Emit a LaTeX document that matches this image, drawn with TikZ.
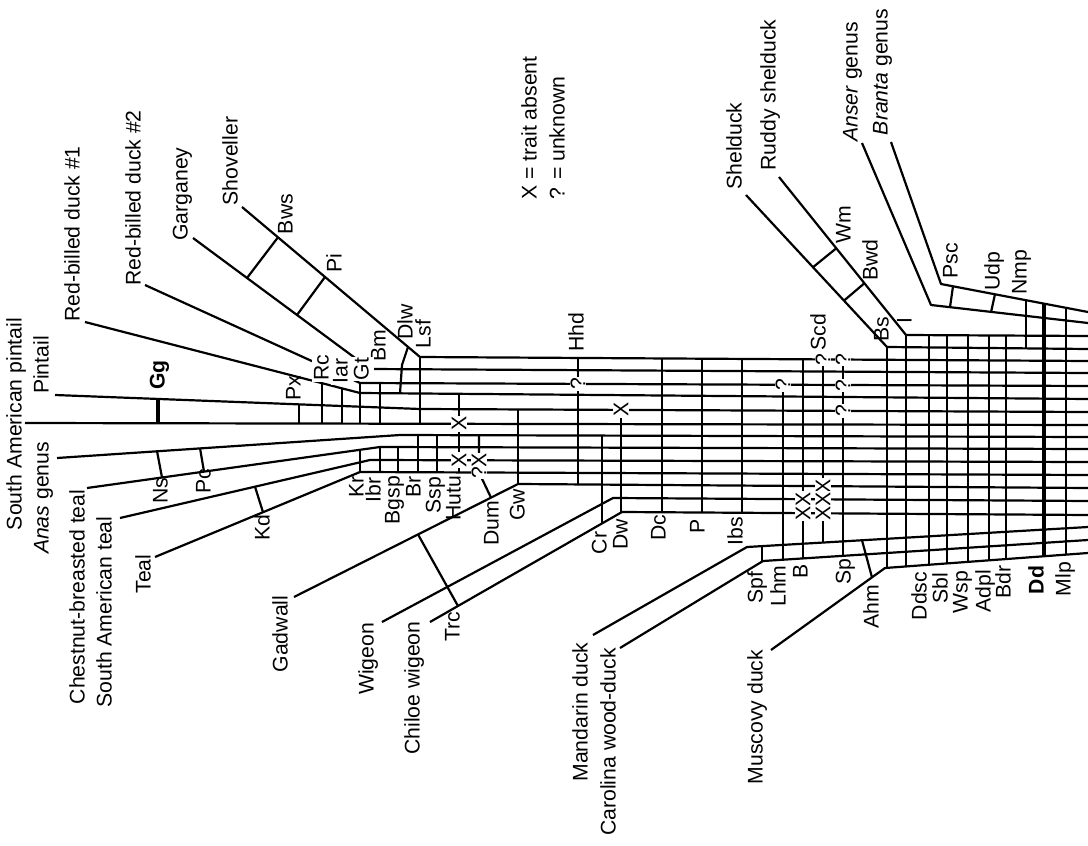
\documentclass[tikz,border=0pt]{standalone}
\usepackage{fontspec}
\setmainfont{Liberation Sans}
\usetikzlibrary{positioning}

\tikzstyle{taxon} = [rotate=90, inner sep=0pt, text height=0.75em, text depth=0.2em]
\tikzstyle{trait} = [rotate=90, inner sep=0.6pt, text height=0.75em, text depth=0.2em]
\tikzstyle{hide} = [fill=white]
\tikzstyle{flag} = [rotate=90, inner sep=0.4pt, fill=white]
\tikzstyle{branch} = [line width=1.1pt, line join=round]
\tikzstyle{rung} = [line width=1.1pt]
\tikzstyle{heavy} = [line width=2.2pt]

\begin{document}
\begin{tikzpicture}[x=0.5pt, y=-0.5pt, font=\fontsize{10.6}{14}\selectfont]
\useasboundingbox (0,0) rectangle (1088,846);

% lineages, tip -> root at the right edge
\draw[branch] (25,423) -- (1088,425);                 % S. American pintail
\draw[branch] (55,395) -- (420,409) -- (1088,412);    % Pintail
\draw[branch] (85,322) -- (360,393) -- (1088,399);    % Red-billed #1
\draw[branch] (145,285) -- (360,383) -- (1088,386);   % Red-billed #2
\draw[branch] (193,238) -- (370,369) -- (1088,373);   % Garganey
\draw[branch] (242,207) -- (420,357) -- (1088,361);   % Shoveller
\draw[branch] (57,458) -- (400,435) -- (1088,437);    % Anas
\draw[branch] (87,488) -- (380,447) -- (1088,449);    % Chestnut-breasted teal
\draw[branch] (120,518) -- (370,460) -- (1088,462);   % S. American teal
\draw[branch] (155,557) -- (360,472) -- (1088,475);   % Teal
\draw[branch] (294,597) -- (518,484) -- (1088,488);   % Gadwall
\draw[branch] (382,622) -- (613,498) -- (1088,501);   % Wigeon
\draw[branch] (430,622) -- (622,512) -- (1088,515);   % Chiloe wigeon
\draw[branch] (593,635) -- (747,547) -- (1088,527);   % Mandarin
\draw[branch] (620,648) -- (763,561) -- (1088,540);   % Carolina
\draw[branch] (771,650) -- (885,568) -- (1088,553);   % Muscovy
\draw[branch] (746,195) -- (887,347) -- (1088,349);   % Shelduck
\draw[branch] (779,177) -- (906,335) -- (1088,336);   % Ruddy shelduck
\draw[branch] (862,143) -- (931,305) -- (1088,323);   % Anser
\draw[branch] (891,142) -- (941,284) -- (1088,312);   % Branta

% character bars
\draw[heavy] (158,399) -- (158,423.3);
\draw[heavy] (1044,303) -- (1044,556.3);
\foreach \x/\ya/\yb in {299/404.4/423.5, 322/383.2/423.5, 342/388.4/423.6, 360/383/423.6,
    380/383.1/423.7, 420/357/423.7, 360/449.8/472, 380/447/472.1, 398/447.1/472.2,
    418/435.2/472.2, 437/435.3/472.3, 459/393.8/472.4, 518/409.4/484, 578/357.9/484.4,
    602/435.6/523.5, 621/409.9/512.6, 662/358.4/512.3, 702/358.7/512.5, 742/358.9/512.8,
    762/546.1/561.6, 783/385.1/559.7, 803/359.3/558.4, 823/359.4/542.5, 843/359.5/555.8,
    887/347/567.9, 906/335/566.5, 929/335.1/564.7, 947/335.2/563.4, 968/335.3/561.9,
    989/335.5/560.4, 1006/335.6/559.1, 1026/299.6/348.4, 1066/307.2/554.6}
  \draw[rung] (\x,\ya) -- (\x,\yb);
\draw[rung] (247,278) -- (278,237.3);
\draw[rung] (325,277) -- (297,315);
\draw[rung] (157,451) -- (162,477.5);
\draw[rung] (200,448) -- (204,471.6);
\draw[rung] (255,486.7) -- (263,512.2);
\draw[rung] (418,534.4) -- (458,606);
\draw[rung] (862,540.3) -- (872,577.4);
\draw[rung] (953,286.3) -- (950,307.2);
\draw[rung] (995,294.2) -- (991,312.3);
\draw[rung] (813,267.2) -- (836,248.5);
\draw[rung] (844,300.6) -- (864,283.6);
\draw[rung, line join=round] (408,347) -- (402,365) -- (400,393.3);
\draw[rung, line join=round] (479,435.6) -- (479,472.5) -- (491,497.6);

% absent / unknown
\foreach \x/\y [count=\i] in {459/423.7, 459/460.3, 479/460.4, 621/409.9, 803/499.2,
    803/513.2, 823/486.1, 823/499.3, 823/513.3}
  \node[flag] (absent\i) at (\x,\y) {X};
\foreach \x/\y [count=\i] in {479/472.5, 578/383.9, 783/385.1, 823/359.4, 843/359.5,
    843/385.3, 843/410.9}
  \node[flag] (unknown\i) at (\x,\y) {?};

% trait names
\foreach \n/\x/\y in {Px/295/388, Bm/380/346, Dlw/407/322, Lsf/425/334, Bws/287/214,
    Pi/336/263, Ns/162/491, Pc/205/481, Kd/264/528, Kr/358/487, Ibr/375/490,
    Bgsp/394/500, Br/415/487, Ssp/435/495, Hutu/455/498, Dum/493/523, Gw/519/505,
    Trc/454/627, Hhd/578/332, Cr/601/543, Dw/622/534, Dc/660/528, P/699/526,
    Ibs/737/531, Scd/820/332, Spf/757/588, Lhm/780/586, B/802/571, Sp/845/572,
    Ahm/873/607, Wm/845/225, Bwd/872/260, Bs/883/329, I/906/321, Psc/952/261,
    Udp/994/271, Nmp/1021/272, Ddsc/921/596, Sbl/942/588, Wsp/962/592,
    Adpl/985/591, Bdr/1005/582, Mlp/1065/579}
  \node[trait] (\n) at (\x,\y) {\n};
\foreach \n/\x/\y in {Rc/323/368, Iar/342/371, Gt/363/369}
  \node[trait, hide] (\n) at (\x,\y) {\n};
\node[trait] (Gg) at (159,375) {\bfseries Gg};
\node[trait] (Dd) at (1038,580) {\bfseries Dd};

% taxa
\node[taxon] (sapin) at (16,424) {South American pintail};
\node[taxon] (pin) at (43,365) {Pintail};
\node[taxon] (rbda) at (74,234) {Red-billed duck \#1};
\node[taxon] (rbdb) at (135,198) {Red-billed duck \#2};
\node[taxon] (garg) at (182,194) {Garganey};
\node[taxon] (shov) at (232,161) {Shoveller};
\node[taxon] (anas) at (43,498) {\textit{Anas} genus};
\node[taxon] (cbteal) at (79,597) {Chestnut-breasted teal};
\node[taxon] (sateal) at (106,612) {South American teal};
\node[taxon] (teal) at (145,574) {Teal};
\node[taxon] (gadw) at (282,634) {Gadwall};
\node[taxon] (wig) at (368,659) {Wigeon};
\node[taxon] (chwig) at (414,688) {Chiloe wigeon};
\node[taxon] (mand) at (582,712) {Mandarin duck};
\node[taxon] (carw) at (610,742) {Carolina wood-duck};
\node[taxon] (musc) at (757,717) {Muscovy duck};
\node[taxon] (shel) at (736,146) {Shelduck};
\node[taxon] (rudd) at (770,95) {Ruddy shelduck};
\node[taxon] (anser) at (852,82) {\textit{Anser} genus};
\node[taxon] (branta) at (882,72) {\textit{Branta} genus};

\node[rotate=90, align=left, inner sep=0pt] (legend) at (543,128) {X = trait absent\\? = unknown};

\end{tikzpicture}
\end{document}
